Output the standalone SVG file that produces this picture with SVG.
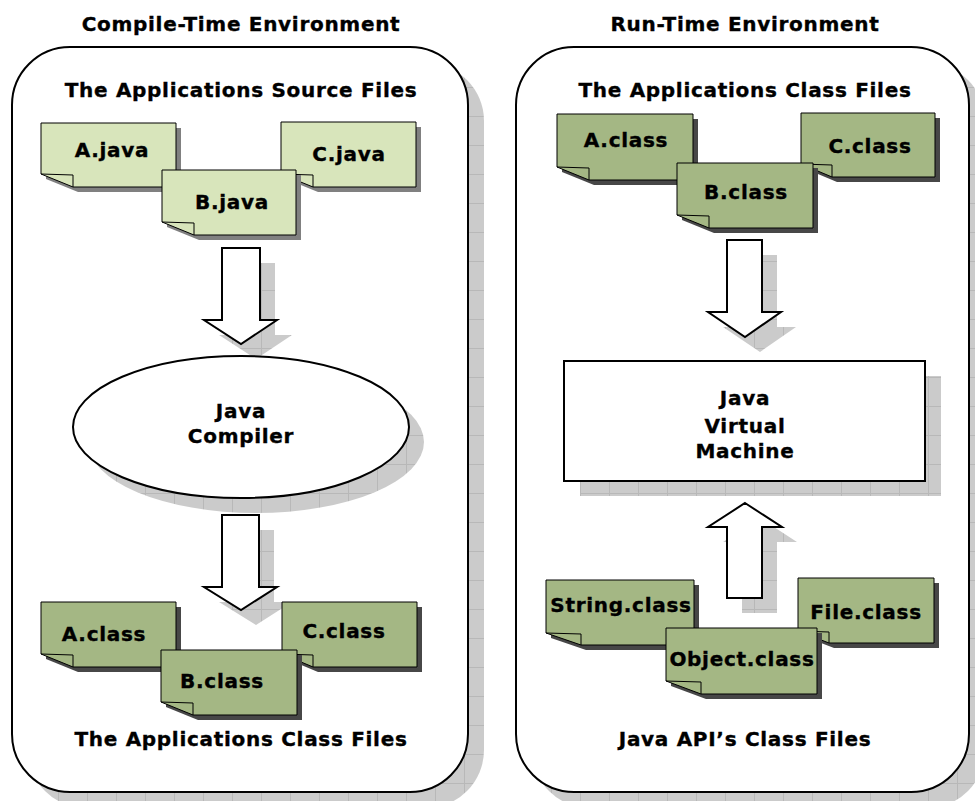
<svg xmlns="http://www.w3.org/2000/svg" width="975" height="801" viewBox="0 0 975 801">
<style>
text{font-family:"DejaVu Sans","Liberation Sans",sans-serif;font-weight:bold;fill:#000;stroke:#000;stroke-width:0.35;text-anchor:middle;font-size:20px;letter-spacing:0.7px}
.panel{fill:#fff;stroke:#000;stroke-width:2}
.shadow{fill:url(#sh)}
.arrow{fill:#fff;stroke:#000;stroke-width:2;stroke-linejoin:miter}
.src{fill:#d8e5bb;stroke:#000;stroke-width:1}
.cls{fill:#a4b784;stroke:#000;stroke-width:1}
.fold{fill:none;stroke:#000;stroke-width:1}
.nsl{fill:#808080}
.nsd{fill:#474747}
</style>
<defs>
<pattern id="sh" width="29" height="29" patternUnits="userSpaceOnUse">
<rect width="29" height="29" fill="#cbcbcb"/>
<path d="M0,0.5H29M0.5,0V29" stroke="#b8b8b8" stroke-width="1"/>
</pattern>
</defs>
<rect width="975" height="801" fill="#fff"/>

<g id="compile-env">
<rect class="shadow" x="28" y="63" width="456" height="745" rx="58"/>
<rect class="panel" x="12" y="47" width="456" height="745" rx="58"/>
<text x="241" y="31">Compile-Time Environment</text>
<text x="241" y="97">The Applications Source Files</text>
<text x="241" y="746">The Applications Class Files</text>
</g>

<g id="run-env">
<rect class="shadow" x="532" y="63" width="453" height="745" rx="58"/>
<rect class="panel" x="516" y="47" width="453" height="745" rx="58"/>
<text x="745" y="31">Run-Time Environment</text>
<text x="745" y="97">The Applications Class Files</text>
<text x="745" y="746">Java API’s Class Files</text>
</g>

<g id="connectors">
<path class="shadow" d="M237,263 H275 V335 H292 L256,359 L219,335 H237 Z"/>
<path class="arrow" d="M222,248 H260 V320 H277 L241,344 L204,320 H222 Z"/>
<path class="shadow" d="M237,530 H274 V602 H292 L256,625 L219,602 H237 Z"/>
<path class="arrow" d="M222,515 H259 V587 H277 L241,610 L204,587 H222 Z"/>
<path class="shadow" d="M742,255 H777 V327 H796 L760,352 L723,327 H742 Z"/>
<path class="arrow" d="M727,240 H762 V312 H781 L745,337 L708,312 H727 Z"/>
<path class="shadow" d="M760,518 L797,542 H777 V613 H742 V542 H723 Z"/>
<path class="arrow" d="M745,503 L782,527 H762 V598 H727 V527 H708 Z"/>
</g>

<g id="a-java">
<path class="nsl" d="M46,128 H181 V192 H78 L46,179 Z"/>
<path class="src" d="M41,123 H176 V187 H73 L41,174 Z"/>
<path class="fold" d="M41,174 L73,175 V187"/>
<text x="112" y="157">A.java</text>
</g>
<g id="c-java">
<path class="nsl" d="M286,127 H421 V192 H318 L286,179 Z"/>
<path class="src" d="M281,122 H416 V187 H313 L281,174 Z"/>
<path class="fold" d="M281,174 L313,175 V187"/>
<text x="349" y="161">C.java</text>
</g>
<g id="b-java">
<path class="nsl" d="M167,175 H301 V240 H199 L167,227 Z"/>
<path class="src" d="M162,170 H296 V235 H194 L162,222 Z"/>
<path class="fold" d="M162,222 L194,223 V235"/>
<text x="232" y="209">B.java</text>
</g>

<g id="java-compiler">
<ellipse class="shadow" cx="256" cy="442" rx="168" ry="71"/>
<ellipse cx="241" cy="427" rx="168" ry="71" fill="#fff" stroke="#000" stroke-width="2"/>
<text x="241" y="418">Java</text>
<text x="241" y="443">Compiler</text>
</g>

<g id="a-class-out">
<path class="nsd" d="M46,607 H181 V672 H78 L46,659 Z"/>
<path class="cls" d="M41,602 H176 V667 H73 L41,654 Z"/>
<path class="fold" d="M41,654 L73,655 V667"/>
<text x="104" y="641">A.class</text>
</g>
<g id="c-class-out">
<path class="nsd" d="M287,607 H422 V672 H318 L287,659 Z"/>
<path class="cls" d="M282,602 H417 V667 H313 L282,654 Z"/>
<path class="fold" d="M282,654 L313,655 V667"/>
<text x="344" y="638">C.class</text>
</g>
<g id="b-class-out">
<path class="nsd" d="M166,655 H302 V720 H198 L166,707 Z"/>
<path class="cls" d="M161,650 H297 V715 H193 L161,702 Z"/>
<path class="fold" d="M161,702 L193,703 V715"/>
<text x="222" y="688">B.class</text>
</g>

<g id="a-class-in">
<path class="nsd" d="M562,119 H698 V185 H594 L562,172 Z"/>
<path class="cls" d="M557,114 H693 V180 H589 L557,167 Z"/>
<path class="fold" d="M557,167 L589,168 V180"/>
<text x="626" y="147">A.class</text>
</g>
<g id="c-class-in">
<path class="nsd" d="M806,118 H940 V182 H837 L806,169 Z"/>
<path class="cls" d="M801,113 H935 V177 H832 L801,164 Z"/>
<path class="fold" d="M801,164 L832,165 V177"/>
<text x="870" y="153">C.class</text>
</g>
<g id="b-class-in">
<path class="nsd" d="M682,168 H818 V233 H714 L682,220 Z"/>
<path class="cls" d="M677,163 H813 V228 H709 L677,215 Z"/>
<path class="fold" d="M677,215 L709,216 V228"/>
<text x="746" y="199">B.class</text>
</g>

<g id="jvm">
<rect class="shadow" x="580" y="376" width="361" height="120"/>
<rect x="564" y="361" width="361" height="120" fill="#fff" stroke="#000" stroke-width="2"/>
<text x="745" y="405">Java</text>
<text x="745" y="433">Virtual</text>
<text x="745" y="458">Machine</text>
</g>

<g id="string-class">
<path class="nsd" d="M551,585 H699 V650 H586 L551,638 Z"/>
<path class="cls" d="M546,580 H694 V645 H581 L546,633 Z"/>
<path class="fold" d="M546,633 L581,634 V645"/>
<text x="621" y="612">String.class</text>
</g>
<g id="file-class">
<path class="nsd" d="M803,583 H939 V648 H834 L803,636 Z"/>
<path class="cls" d="M798,578 H934 V643 H829 L798,631 Z"/>
<path class="fold" d="M798,631 L829,632 V643"/>
<text x="866" y="619">File.class</text>
</g>
<g id="object-class">
<path class="nsd" d="M671,633 H822 V699 H706 L671,686 Z"/>
<path class="cls" d="M666,628 H817 V694 H701 L666,681 Z"/>
<path class="fold" d="M666,681 L701,682 V694"/>
<text x="742" y="666">Object.class</text>
</g>
</svg>
